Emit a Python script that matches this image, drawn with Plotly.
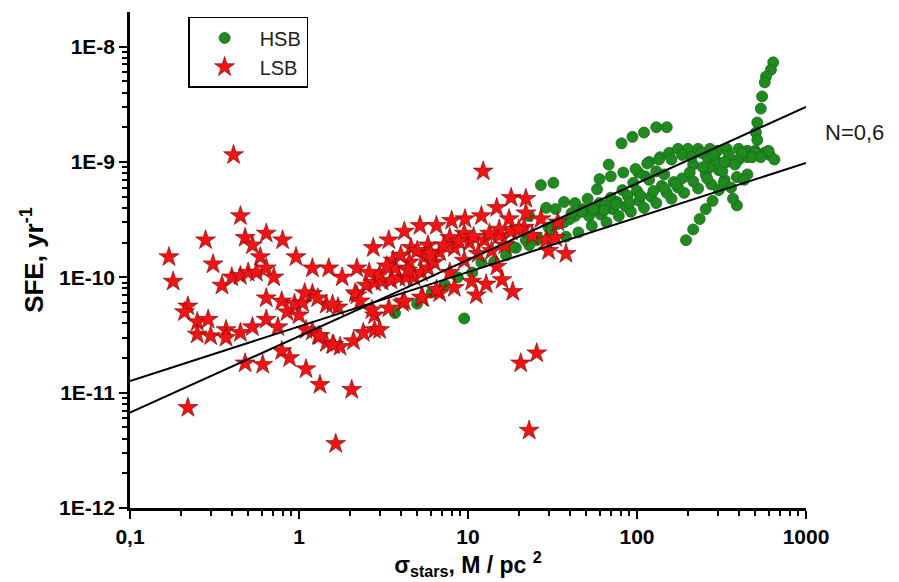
import plotly.graph_objects as go

# ---------------- data ----------------
hsb_x = [3.7, 5.0, 6.1, 7.3, 8.7, 10.6, 12, 14.3, 16.8, 19.2, 23, 25.5,
         9.5,
         23, 27, 32, 58, 68, 81, 94, 110, 130, 150,
         37, 43, 51, 60, 70, 82, 95, 112, 130,
         37, 43, 52, 61, 72, 86, 103, 121,
         18.3, 22, 26, 31.5, 38, 45, 54, 66, 78, 92, 110, 130, 160, 190, 230, 275, 330,
         640, 620, 580, 570, 550, 540, 515, 505, 515,
         195, 215, 235, 255, 280, 305, 325, 390, 370,
         102, 118, 137, 155, 175, 200, 230, 270, 300, 340, 400, 450, 500, 570, 610, 650,
         150, 175, 215, 255, 305, 340, 400, 450, 500,
         118, 145, 215, 270, 320, 390, 450, 290,
         60, 70, 83, 98, 115, 135,
         30, 34, 40, 48, 56, 65, 76, 88, 100,
         140, 165, 185, 205, 245, 260, 285, 350, 420, 480, 540,
         160, 185, 240, 210, 260, 360, 430, 380, 330, 600,
         29, 33, 41, 47, 55, 64, 75, 90, 105, 125, 145, 170]
hsb_y = [4.9e-11, 5.9e-11, 7.4e-11, 8.6e-11, 1.0e-10, 1.1e-10, 1.34e-10, 1.37e-10, 1.55e-10, 1.8e-10, 1.9e-10, 2.1e-10,
         4.4e-11,
         3.4e-10, 6.3e-10, 6.6e-10, 5.8e-10, 9.5e-10, 1.45e-9, 1.65e-9, 1.8e-9, 2.0e-9, 2.0e-9,
         4.5e-10, 4.4e-10, 4.8e-10, 4.4e-10, 4.9e-10, 5.7e-10, 6.6e-10, 7.5e-10, 8.3e-10,
         3.0e-10, 3.4e-10, 3.4e-10, 3.5e-10, 3.9e-10, 4.1e-10, 4.6e-10, 5.0e-10,
         1.85e-10, 2.1e-10, 2.2e-10, 2.35e-10, 2.25e-10, 2.45e-10, 2.8e-10, 3.0e-10, 3.4e-10, 3.7e-10, 4.0e-10,
         4.4e-10, 4.8e-10, 5.4e-10, 5.9e-10, 6.4e-10, 7.0e-10,
         7.3e-9, 6.3e-9, 5.5e-9, 4.9e-9, 3.7e-9, 2.9e-9, 2.2e-9, 1.8e-9, 1.55e-9,
         2.1e-10, 2.6e-10, 3.2e-10, 3.9e-10, 4.6e-10, 5.7e-10, 6.6e-10, 4.2e-10, 4.8e-10,
         8.1e-10, 1.0e-9, 1.1e-9, 1.2e-9, 1.3e-9, 1.3e-9, 1.3e-9, 1.3e-9, 1.25e-9, 1.3e-9, 1.3e-9, 1.25e-9,
         1.25e-9, 1.2e-9, 1.15e-9, 1.05e-9,
         5.4e-10, 6.0e-10, 6.8e-10, 7.8e-10, 8.5e-10, 1.0e-9, 1.05e-9, 1.1e-9, 1.2e-9,
         7.0e-10, 7.8e-10, 9.5e-10, 9.0e-10, 8.3e-10, 7.4e-10, 7.8e-10, 1.05e-9,
         7.1e-10, 7.5e-10, 8.1e-10, 8.7e-10, 9.7e-10, 1.05e-9,
         2.7e-10, 2.9e-10, 3.2e-10, 3.9e-10, 3.9e-10, 4.2e-10, 4.5e-10, 5.1e-10, 5.6e-10,
         6.2e-10, 6.7e-10, 7.2e-10, 8.1e-10, 9.0e-10, 1.1e-9, 1.15e-9, 1.15e-9, 1.2e-9, 1.1e-9, 1.1e-9,
         1.05e-9, 1.15e-9, 1.2e-9, 1.1e-9, 7.2e-10, 6.0e-10, 7.0e-10, 9.5e-10, 1.0e-9, 1.25e-9,
         4.0e-10, 3.9e-10, 3.6e-10, 3.7e-10, 3.9e-10, 3.8e-10, 4.3e-10, 4.4e-10, 5.1e-10, 5.6e-10, 5.9e-10, 6.4e-10]

lsb_x = [0.41, 0.45, 0.28, 0.48, 0.64, 0.80, 0.17, 0.31, 0.53, 0.59, 0.96, 0.18,
         0.35, 0.40, 0.45, 0.50, 0.56, 0.64, 0.71, 0.64, 0.79, 0.94, 1.05, 0.22,
         0.21, 0.25, 0.29, 0.25, 0.30, 0.37, 0.37, 0.45, 0.53, 0.64, 0.75, 0.85,
         1.0, 0.48, 0.61, 0.79, 0.88, 1.1, 0.22, 1.33, 2.05, 1.65,
         12.3, 18.0, 22, 14.8, 12, 9.6, 8.0, 6.5, 5.2, 4.2, 3.4, 2.75,
         1.2, 1.5, 1.8, 2.2, 3.6, 4.6, 5.8,
         2.5, 2.8, 3.1, 3.5, 3.9, 4.3, 4.8, 5.3, 5.8,
         3.0, 3.7, 4.5, 5.5, 6.8, 8.3, 10.2, 12.5, 15.3, 18, 21.5, 7.8, 9.5, 6.3,
         7.8, 9.5, 11.5, 13.8, 16.5,
         1.2, 1.45, 1.7, 2.2,
         1.2, 1.3, 1.45, 1.6, 1.75, 2.1, 2.4, 2.8,
         3.4, 4.1, 2.8,
         10.5, 12.8, 15.9, 18.4, 11.2, 8.3, 6.8, 5.4,
         20.5, 25.5, 23, 38,
         22, 27, 34, 17.5, 15.3, 13.4, 20, 24, 29, 33, 30,
         1.08, 1.29, 1.58, 2.15, 2.3, 2.7, 4.2, 5.3, 6.5, 14.8,
         1.1, 1.33, 1.58, 3.0,
         4.0, 5.0, 6.0, 7.2, 8.8, 10.8, 3.3, 4.4, 2.6]
lsb_y = [1.15e-9, 3.4e-10, 2.1e-10, 2.2e-10, 2.4e-10, 2.1e-10, 1.5e-10, 1.3e-10, 1.9e-10, 1.5e-10, 1.5e-10, 9.2e-11,
         8.5e-11, 1.0e-10, 1.03e-10, 1.1e-10, 1.1e-10, 1.2e-10, 1.0e-10, 6.6e-11, 6.2e-11, 5.9e-11, 6.0e-11, 5.6e-11,
         5.0e-11, 4.1e-11, 4.3e-11, 3.2e-11, 3.1e-11, 3.5e-11, 3.0e-11, 3.3e-11, 3.7e-11, 4.3e-11, 3.7e-11, 5.0e-11,
         4.7e-11, 1.8e-11, 1.75e-11, 2.3e-11, 2.0e-11, 1.6e-11, 7.4e-12, 1.17e-11, 1.06e-11, 3.6e-12,
         8.3e-10, 4.9e-10, 4.8e-10, 4.0e-10, 3.4e-10, 3.2e-10, 3.1e-10, 2.8e-10, 2.8e-10, 2.5e-10, 2.1e-10, 1.8e-10,
         1.2e-10, 1.2e-10, 1.0e-10, 1.2e-10, 1.4e-10, 1.8e-10, 1.9e-10,
         8.5e-11, 9.0e-11, 9.2e-11, 9.4e-11, 9.9e-11, 1.0e-10, 1.0e-10, 1.1e-10, 1.2e-10,
         1.05e-10, 1.2e-10, 1.35e-10, 1.5e-10, 1.65e-10, 1.8e-10, 2.0e-10, 2.1e-10, 2.3e-10, 2.5e-10, 2.7e-10,
         2.2e-10, 2.4e-10, 1.35e-10,
         1.1e-10, 1.4e-10, 1.6e-10, 1.7e-10, 1.9e-10,
         7.2e-11, 5.8e-11, 5.5e-11, 7.0e-11,
         3.4e-11, 3.1e-11, 2.7e-11, 2.6e-11, 2.5e-11, 2.8e-11, 3.3e-11, 3.5e-11,
         5.4e-11, 6.0e-11, 4.7e-11,
         9.2e-11, 8.7e-11, 9.5e-11, 7.5e-11, 7.0e-11, 8.1e-11, 7.3e-11, 6.6e-11,
         1.8e-11, 2.2e-11, 4.7e-12, 1.6e-10,
         3.6e-10, 3.2e-10, 3.0e-10, 3.2e-10, 2.6e-10, 2.4e-10, 2.6e-10, 2.3e-10, 2.1e-10, 2.2e-10, 1.7e-10,
         7.3e-11, 6.6e-11, 5.8e-11, 7.3e-11, 6.2e-11, 5.2e-11, 6.2e-11, 6.7e-11, 7.8e-11, 1.24e-10,
         3.5e-11, 3.1e-11, 2.6e-11, 3.5e-11,
         1.55e-10, 1.7e-10, 1.6e-10, 1.9e-10, 2.05e-10, 2.25e-10, 1.25e-10, 1.15e-10, 1.1e-10]

fit_x = [0.1, 1000]
fit_a_y = [1.26e-11, 9.8e-10]   # shallower line
fit_b_y = [6.7e-12, 3.0e-9]     # steeper line

x_tickvals = [0.1, 1, 10, 100, 1000]
x_ticktext = ["0,1", "1", "10", "100", "1000"]
y_tickvals = [1e-12, 1e-11, 1e-10, 1e-9, 1e-8]
y_ticktext = ["1E-12", "1E-11", "1E-10", "1E-9", "1E-8"]

# ---------------- figure ----------------
fig = go.Figure()
fig.add_trace(go.Scatter(
    x=hsb_x, y=hsb_y, mode="markers", name="HSB",
    marker=dict(symbol="circle", size=11, color="#1f8a1f",
                line=dict(color="#166a16", width=0.8))))
fig.add_trace(go.Scatter(
    x=lsb_x, y=lsb_y, mode="markers", name="LSB",
    marker=dict(symbol="star", size=15, color="#f01414",
                line=dict(color="#7a0000", width=0.6))))
fig.add_trace(go.Scatter(x=fit_x, y=fit_a_y, mode="lines", showlegend=False,
                         line=dict(color="black", width=2)))
fig.add_trace(go.Scatter(x=fit_x, y=fit_b_y, mode="lines", showlegend=False,
                         line=dict(color="black", width=2)))

minor_vals = [m * 10.0 ** e for e in range(-13, 4) for m in range(2, 10)]

bold = "Liberation Sans, Arial, sans-serif"
narrow = "Liberation Sans Narrow, Arial Narrow, Liberation Sans, sans-serif"

fig.update_xaxes(
    type="log", range=[-1, 3],
    tickmode="array", tickvals=x_tickvals, ticktext=x_ticktext,
    ticks="outside", ticklen=8, tickwidth=2, tickcolor="black",
    minor=dict(tickmode="array", tickvals=minor_vals, ticks="outside",
               ticklen=5, tickwidth=1.5, tickcolor="black", showgrid=False),
    showline=True, linecolor="black", linewidth=2.5,
    showgrid=False, zeroline=False,
    tickfont=dict(family=narrow, size=21, color="black", weight="bold"),
    title=dict(text="σ<sub>stars</sub>, M / pc <sup>2</sup>",
               font=dict(family=narrow, size=23, color="black", weight="bold"),
               standoff=0),
)
fig.update_yaxes(
    type="log", range=[-12, -7.7],
    tickmode="array", tickvals=y_tickvals, ticktext=y_ticktext,
    ticks="outside", ticklen=8, tickwidth=2, tickcolor="black",
    minor=dict(tickmode="array", tickvals=minor_vals, ticks="outside",
               ticklen=5, tickwidth=1.5, tickcolor="black", showgrid=False),
    showline=True, linecolor="black", linewidth=2.5,
    showgrid=False, zeroline=False,
    tickfont=dict(family=bold, size=21, color="black", weight="bold"),
    title=dict(text="SFE, yr<sup>-1</sup>",
               font=dict(family=bold, size=26, color="black", weight="bold"),
               standoff=8),
)

fig.add_annotation(x=1.025, y=0.758, xref="paper", yref="paper",
                   xanchor="left", yanchor="middle", showarrow=False,
                   text="N=0,6", font=dict(family=bold, size=22, color="#1a1a1a"))

fig.update_layout(
    width=891, height=574,
    margin=dict(l=122, r=93, t=4, b=74),
    paper_bgcolor="white", plot_bgcolor="white",
    legend=dict(x=0.086, y=0.99, xanchor="left", yanchor="top",
                bordercolor="black", borderwidth=1.5, bgcolor="white",
                font=dict(family=bold, size=20, color="#222222"),
                itemwidth=60, tracegroupgap=2),
)

fig.write_html("out.html")
